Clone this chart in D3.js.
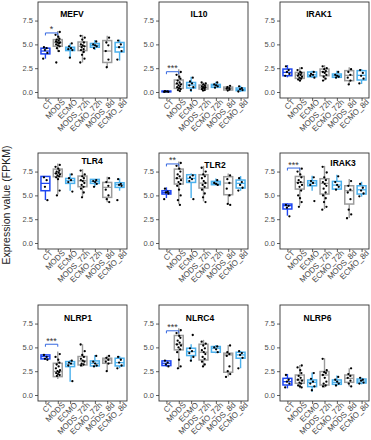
<!DOCTYPE html>
<html>
<head>
<meta charset="utf-8">
<script src="https://cdn.jsdelivr.net/npm/d3@7/dist/d3.min.js"></script>
<style>
  body { margin: 0; background: #fff; }
  svg { display: block; font-family: "Liberation Sans", Arial, sans-serif; }
</style>
</head>
<body>
<div id="chart"></div>
<script>
const groups = ['CT', 'MODS', 'ECMO', 'MODS_72h', 'ECMO_72h', 'MODS_8d', 'ECMO_8d']
const genes = ['MEFV', 'IL10', 'IRAK1', 'TLR4', 'TLR2', 'IRAK3', 'NLRP1', 'NLRC4', 'NLRP6']
const yTicks = [0, 2.5, 5, 7.5]

// box stats per group: [lower whisker, q1, median, q3, upper whisker]
const MEFV_box = [[3.5, 4.0, 4.3, 4.6, 4.7], [4.2, 4.8, 5.2, 5.5, 6.4], [3.6, 4.35, 4.5, 4.7, 5.1], [3.1, 4.35, 4.8, 5.25, 6.0], [4.4, 4.7, 4.9, 5.1, 5.45], [2.6, 3.1, 4.3, 5.4, 5.9], [3.3, 4.2, 4.7, 5.2, 5.5]]
const IL10_box = [[0.0, 0.02, 0.05, 0.1, 0.12], [0.07, 0.38, 0.84, 1.26, 2.4], [0.0, 0.42, 0.73, 1.0, 1.6], [0.14, 0.31, 0.49, 0.73, 1.0], [0.42, 0.49, 0.66, 0.8, 1.08], [0.14, 0.21, 0.38, 0.52, 0.66], [0.0, 0.14, 0.24, 0.42, 0.66]]
const IRAK1_box = [[1.54, 1.71, 2.06, 2.41, 2.83], [1.08, 1.43, 1.78, 2.06, 2.6], [1.47, 1.6, 1.8, 2.1, 2.24], [1.19, 1.71, 2.13, 2.41, 2.83], [1.47, 1.54, 1.71, 1.89, 2.24], [0.73, 1.19, 1.75, 2.24, 2.6], [0.84, 1.26, 1.75, 2.24, 2.4]]
const TLR4_box = [[4.51, 5.49, 6.26, 6.99, 6.99], [5.1, 6.96, 7.31, 7.76, 8.36], [5.49, 6.26, 6.54, 6.78, 7.3], [4.79, 5.91, 6.54, 7.03, 7.76], [5.9, 6.26, 6.47, 6.68, 6.7], [4.27, 4.79, 5.84, 6.36, 6.96], [5.49, 5.84, 6.12, 6.33, 6.78]]
const TLR2_box = [[4.72, 5.14, 5.31, 5.49, 5.84], [4.09, 6.19, 6.78, 7.76, 8.57], [4.72, 6.36, 6.78, 7.17, 7.3], [4.37, 5.77, 6.29, 7.17, 8.1], [6.12, 6.12, 6.29, 6.47, 6.78], [4.09, 5.07, 6.29, 6.96, 7.3], [5.49, 5.77, 6.26, 6.61, 7.03]]
const IRAK3_box = [[2.87, 3.57, 3.92, 4.09, 4.16], [3.92, 5.66, 6.36, 6.99, 7.94], [5.49, 6.01, 6.29, 6.54, 7.06], [3.57, 5.14, 6.26, 6.75, 8.1], [5.56, 5.66, 6.08, 6.47, 7.17], [2.62, 4.09, 5.49, 6.01, 6.71], [4.86, 5.14, 5.59, 6.01, 6.43]]
const NLRP1_box = [[3.68, 3.79, 4.04, 4.21, 4.28], [1.68, 1.93, 2.46, 3.33, 4.56], [1.4, 2.98, 3.26, 3.51, 3.68], [2.98, 3.16, 3.58, 4.04, 5.33], [2.98, 3.05, 3.33, 3.58, 4.21], [2.53, 3.33, 3.68, 3.86, 4.14], [2.81, 3.05, 3.4, 3.86, 4.1]]
const NLRC4_box = [[2.98, 3.09, 3.33, 3.58, 3.68], [2.74, 4.74, 5.33, 6.25, 7.0], [3.51, 4.14, 4.56, 4.91, 5.33], [2.98, 3.68, 4.49, 5.33, 5.79], [4.39, 4.49, 4.91, 5.09, 5.26], [1.93, 2.39, 4.21, 4.39, 5.26], [2.81, 3.86, 4.21, 4.49, 4.63]]
const NLRP6_box = [[0.7, 1.05, 1.4, 1.75, 2.21], [0.7, 1.23, 1.58, 2.1, 3.16], [0.35, 0.88, 1.33, 1.58, 2.35], [0.77, 1.05, 2.1, 2.46, 3.86], [0.98, 1.12, 1.33, 1.58, 2.04], [0.88, 1.33, 1.75, 2.1, 2.81], [1.12, 1.26, 1.47, 1.68, 1.82]]

// individual samples per group
const MEFV_pts = [[4.7, 4.6, 4.4, 4.1, 3.5], [6.3, 6.0, 5.8, 5.6, 5.5, 5.4, 5.3, 5.2, 5.2, 5.1, 5.0, 4.9, 4.8, 4.6, 4.3, 3.1], [5.1, 4.8, 4.6, 4.5, 4.4, 3.6], [5.9, 5.7, 5.5, 5.2, 5.0, 4.9, 4.8, 4.7, 4.5, 4.4, 4.2, 3.9, 3.5, 3.1], [5.3, 5.0, 4.9, 4.8, 4.6], [5.7, 5.2, 4.9, 4.3, 3.4, 2.6], [5.4, 5.0, 4.7, 4.3, 3.4]]
const IL10_pts = [[0.1, 0.06, 0.04, 0.02, 0.01], [2.1, 1.8, 1.6, 1.4, 1.2, 1.0, 0.9, 0.8, 0.7, 0.6, 0.5, 0.4, 0.3, 0.2, 0.1], [1.5, 1.1, 0.9, 0.7, 0.5, 0.2], [1.0, 0.9, 0.8, 0.7, 0.6, 0.5, 0.5, 0.4, 0.4, 0.3, 0.2, 0.15], [1.0, 0.8, 0.7, 0.6, 0.45], [0.65, 0.5, 0.4, 0.35, 0.25, 0.15], [0.6, 0.4, 0.3, 0.2, 0.05]]
const IRAK1_pts = [[2.7, 2.3, 2.1, 1.9, 1.7], [2.5, 2.3, 2.1, 2.0, 1.9, 1.8, 1.7, 1.6, 1.5, 1.4, 1.3, 1.2], [2.1, 1.9, 1.8, 1.7, 1.5], [2.7, 2.5, 2.4, 2.2, 2.1, 2.0, 1.8, 1.6, 1.4, 1.2], [2.1, 1.8, 1.7, 1.6, 1.5], [2.4, 2.1, 1.8, 1.5, 1.2, 0.8], [2.3, 2.0, 1.7, 1.4, 0.9]]
const TLR4_pts = [[6.9, 6.6, 5.9, 4.5], [8.2, 8.0, 7.8, 7.6, 7.5, 7.4, 7.3, 7.2, 7.1, 7.0, 6.9, 6.7, 5.5, 5.0], [7.2, 6.8, 6.6, 6.4, 5.4], [7.6, 7.2, 7.0, 6.8, 6.6, 6.5, 6.3, 6.1, 5.9, 5.7, 5.3, 4.8], [6.6, 6.5, 6.4, 6.2, 5.9], [6.8, 6.4, 6.0, 5.6, 5.0, 4.6, 4.3], [6.7, 6.2, 6.1, 6.0, 4.5]]
const TLR2_pts = [[5.7, 5.4, 5.3, 5.2, 4.6], [8.4, 8.1, 7.8, 7.5, 7.2, 7.0, 6.8, 6.6, 6.4, 6.2, 6.0, 5.6, 5.0, 4.5, 4.0], [7.1, 6.9, 6.7, 6.5, 4.6], [7.9, 7.5, 7.2, 7.0, 6.8, 6.5, 6.3, 6.1, 5.9, 5.6, 5.2, 4.8, 4.3], [6.6, 6.3, 6.2, 6.1], [7.1, 6.7, 6.3, 5.7, 5.0, 4.1, 4.0], [6.8, 6.4, 6.1, 5.8, 5.5]]
const IRAK3_pts = [[4.0, 3.9, 3.7, 2.8], [7.8, 7.5, 7.2, 6.9, 6.6, 6.4, 6.3, 6.1, 5.9, 5.5, 5.0, 4.7, 4.3, 3.8], [6.9, 6.5, 6.3, 6.1, 4.4], [8.0, 7.4, 6.9, 6.6, 6.4, 6.2, 6.0, 5.7, 5.3, 5.0, 4.7, 4.3, 3.8, 3.5], [7.0, 6.4, 6.1, 5.9, 5.6], [6.5, 6.0, 5.6, 5.3, 4.6, 3.5, 3.0, 2.6], [6.2, 5.8, 5.5, 5.2, 4.9]]
const NLRP1_pts = [[4.2, 4.0, 3.8, 3.7], [4.3, 4.0, 3.7, 3.4, 3.2, 3.0, 2.8, 2.6, 2.5, 2.4, 2.3, 2.2, 2.1, 2.0], [3.6, 3.4, 3.3, 3.1, 1.45], [5.3, 4.6, 4.2, 4.0, 3.8, 3.6, 3.5, 3.3, 3.2, 3.1], [4.1, 3.5, 3.3, 3.1, 3.0], [4.1, 3.9, 3.7, 3.5, 3.3, 2.5], [4.0, 3.7, 3.4, 3.1, 2.8]]
const NLRC4_pts = [[3.6, 3.4, 3.2, 3.0], [6.8, 6.5, 6.2, 6.0, 5.7, 5.5, 5.3, 5.2, 5.0, 4.8, 4.5, 3.7, 3.0, 2.8], [6.3, 4.9, 4.6, 4.4, 4.0, 3.6], [5.6, 5.4, 5.2, 4.9, 4.7, 4.5, 4.3, 4.0, 3.8, 3.5, 3.2, 3.0], [5.1, 5.0, 4.8, 4.5], [5.2, 4.5, 4.3, 4.1, 3.0, 2.5, 2.2, 1.9], [4.6, 4.4, 4.2, 3.9, 2.8]]
const NLRP6_pts = [[2.1, 1.6, 1.4, 1.2, 0.8], [3.1, 2.9, 2.6, 2.3, 2.0, 1.8, 1.6, 1.5, 1.3, 1.2, 1.0, 0.9, 0.8], [2.3, 1.7, 1.4, 1.2, 0.9, 0.5], [3.8, 2.6, 2.4, 2.3, 2.1, 1.8, 1.4, 1.2, 1.0, 0.9], [1.9, 1.6, 1.4, 1.2, 1.0], [2.8, 2.2, 2.0, 1.8, 1.5, 1.2, 0.9], [1.8, 1.6, 1.5, 1.3, 1.2]]

// CT vs MODS comparison
const sigStars = ['*', '***', '', '', '**', '***', '***', '***', '']
const sigLevel = [6.2, 2.13, null, null, 8.3, 7.87, 5.33, 6.74, null]

const boxData = [MEFV_box, IL10_box, IRAK1_box, TLR4_box, TLR2_box, IRAK3_box, NLRP1_box, NLRC4_box, NLRP6_box]
const ptsData = [MEFV_pts, IL10_pts, IRAK1_pts, TLR4_pts, TLR2_pts, IRAK3_pts, NLRP1_pts, NLRC4_pts, NLRP6_pts]

// layout
const W = 371, H = 440
const colX = [38, 159, 280], rowY = [2, 153, 305]
const PW = 89, PH = 96
// title anchor in (group index, value) units
const titlePos = [[2.15, 7.9], [2.64, 7.9], [2.55, 7.9], [3.77, 8.3], [3.93, 7.9], [4.5, 8.1], [2.64, 7.75], [2.72, 7.75], [2.43, 7.75]]
const colors = ['#1d46f2', '#9b9b9b', '#4bb0ec', '#9b9b9b', '#4bb0ec', '#9b9b9b', '#4bb0ec']
const jitter = [-0.12, 0.1, -0.04, 0.16, -0.18, 0.04, 0.13, -0.09, 0.07, -0.15, 0.18, -0.02, 0.11, -0.13, 0.02, 0.15, -0.07, 0.09]

const svg = d3.select('#chart').append('svg').attr('width', W).attr('height', H)

const x = d3.scalePoint().domain(groups).range([0, PW]).padding(0.6)
const step = x.step()
const y = d3.scaleLinear().domain([-0.63, 9.45]).range([PH, 0])
const bw = step * 0.72

genes.forEach((gene, i) => {
  const g = svg.append('g').attr('transform', `translate(${colX[i % 3]},${rowY[Math.floor(i / 3)]})`)

  g.append('rect').attr('width', PW).attr('height', PH).attr('fill', '#fff')

  // boxes
  boxData[i].forEach((b, j) => {
    const cx = x(groups[j])
    const c = colors[j]
    g.append('line').attr('x1', cx).attr('x2', cx).attr('y1', y(b[0])).attr('y2', y(b[4]))
      .attr('stroke', c).attr('stroke-width', 1.4)
    g.append('rect').attr('x', cx - bw / 2).attr('width', bw)
      .attr('y', y(b[3])).attr('height', Math.max(0.5, y(b[1]) - y(b[3])))
      .attr('fill', '#fff').attr('stroke', c).attr('stroke-width', 1.5)
    g.append('line').attr('x1', cx - bw / 2).attr('x2', cx + bw / 2).attr('y1', y(b[2])).attr('y2', y(b[2]))
      .attr('stroke', c).attr('stroke-width', 1.3)
  })

  // points
  ptsData[i].forEach((pts, j) => {
    pts.forEach((v, k) => {
      g.append('circle')
        .attr('cx', x(groups[j]) + jitter[(k + j * 3) % jitter.length] * step)
        .attr('cy', y(v)).attr('r', 1.15).attr('fill', '#000')
    })
  })

  // significance bracket CT vs MODS
  if (sigStars[i]) {
    const by = y(sigLevel[i])
    const x1 = x(groups[0]), x2 = x(groups[1])
    g.append('path')
      .attr('d', `M${x1},${by + 2.5}V${by}H${x2}V${by + 2.5}`)
      .attr('fill', 'none').attr('stroke', '#3467e0').attr('stroke-width', 1)
    g.append('text').attr('x', (x1 + x2) / 2).attr('y', by - 0.5)
      .attr('text-anchor', 'middle').style('font-size', '9px').attr('fill', '#333')
      .text(sigStars[i])
  }

  // title
  g.append('text')
    .attr('x', x(groups[0]) + titlePos[i][0] * step).attr('y', y(titlePos[i][1]))
    .attr('text-anchor', 'middle').style('font-size', '8.5px').style('font-weight', 'bold')
    .attr('fill', '#000').text(gene)

  g.append('rect').attr('width', PW).attr('height', PH)
    .attr('fill', 'none').attr('stroke', '#333').attr('stroke-width', 0.9)

  // axes
  const ay = g.append('g').call(d3.axisLeft(y).tickValues(yTicks).tickFormat(d3.format('.1f')).tickSize(3).tickPadding(2))
  const ax = g.append('g').attr('transform', `translate(0,${PH})`)
    .call(d3.axisBottom(x).tickSize(3).tickPadding(1))
  ;[ay, ax].forEach(a => {
    a.select('.domain').remove()
    a.selectAll('.tick line').attr('stroke', '#333').attr('stroke-width', 0.8)
    a.selectAll('.tick text').attr('fill', '#4d4d4d').style('font-size', '7.5px').style('font-family', '"Liberation Sans", Arial, sans-serif')
  })
  ax.selectAll('.tick text')
    .attr('text-anchor', 'end').attr('dx', '0.25em').attr('dy', '0.55em')
    .attr('transform', 'rotate(-45)').style('font-size', '8px')
})

svg.append('text')
  .attr('transform', 'translate(10,205) rotate(-90)')
  .attr('text-anchor', 'middle').style('font-size', '10.5px').attr('fill', '#222')
  .text('Expression value (FPKM)')
</script>
</body>
</html>
